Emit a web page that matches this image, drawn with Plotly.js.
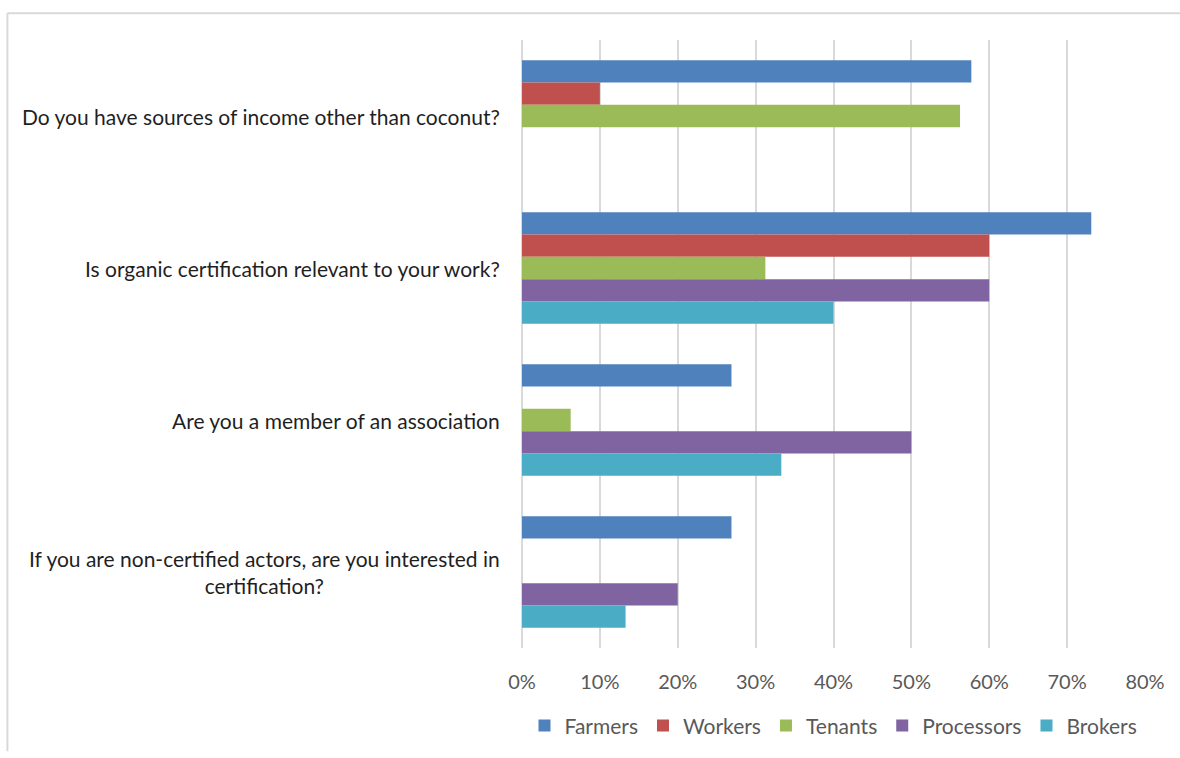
<!DOCTYPE html>
<html>
<head>
<meta charset="utf-8">
<script src="https://cdn.plot.ly/plotly-3.0.1.min.js"></script>
<style>
html,body{margin:0;padding:0;background:#fff;}
#chart{width:1180px;height:758px;}
</style>
</head>
<body>
<div id="chart"></div>
<script>
const categories = [
  "Do you have sources of income other than coconut?",
  "Is organic certification relevant to your work?",
  "Are you a member of an association",
  "If you are non-certified actors, are you interested in<br>certification?"
];
const seriesNames = ["Farmers", "Workers", "Tenants", "Processors", "Brokers"];
const farmers    = [57.7, 73.1, 26.9, 26.9];
const workers    = [10, 60, 0, 0];
const tenants    = [56.25, 31.25, 6.25, 0];
const processors = [0, 60, 50, 20];
const brokers    = [0, 40, 33.3, 13.3];
const xTicks = [0, 10, 20, 30, 40, 50, 60, 70, 80];

const colors = ["#4f81bd", "#c0504d", "#9bbb59", "#8064a2", "#4bacc6"];
const values = [farmers, workers, tenants, processors, brokers];

const traces = seriesNames.map((name, i) => ({
  type: "bar",
  orientation: "h",
  name: name,
  y: categories,
  x: values[i],
  marker: {color: colors[i]},
  hoverinfo: "x+name"
}));

const FONT = "Lato, 'Open Sans', sans-serif";

const annotations = categories.map(c => ({
  xref: "paper", yref: "y",
  x: 0, y: c,
  xanchor: "right", yanchor: "middle",
  xshift: -20,
  text: c,
  align: "center",
  showarrow: false,
  font: {family: FONT, size: 21, color: "#1f1f1f"}
}));

const layout = {
  width: 1180, height: 758,
  margin: {l: 522, r: 35, t: 40, b: 106},
  paper_bgcolor: "#fff",
  plot_bgcolor: "#fff",
  barmode: "group",
  bargap: 0.265,
  bargroupgap: 0,
  font: {family: FONT, size: 20, color: "#595959"},
  xaxis: {
    range: [0, 80],
    tickvals: xTicks,
    ticktext: xTicks.map(v => v + "%"),
    showgrid: true,
    gridcolor: "#d9d9d9",
    gridwidth: 2,
    zeroline: true,
    zerolinecolor: "#d9d9d9",
    zerolinewidth: 2,
    showline: false,
    ticks: "",
    ticklabelstandoff: 20,
    tickfont: {family: FONT, size: 20, color: "#595959"},
    fixedrange: true
  },
  yaxis: {
    type: "category",
    autorange: "reversed",
    showticklabels: false,
    showgrid: false,
    zeroline: false,
    showline: false,
    ticks: "",
    fixedrange: true
  },
  legend: {
    orientation: "h",
    x: 0.5, xanchor: "center",
    y: -0.128, yanchor: "middle",
    font: {family: FONT, size: 21, color: "#595959"},
    traceorder: "normal"
  },
  annotations: annotations,
  shapes: [
    {type: "line", xref: "paper", yref: "paper", x0: -0.826, x1: 1.1, y0: 1.044, y1: 1.044, line: {color: "#d9d9d9", width: 2}},
    {type: "line", xref: "paper", yref: "paper", x0: -0.826, x1: -0.826, y0: 1.044, y1: -0.17, line: {color: "#d9d9d9", width: 2}}
  ],
  showlegend: true
};

Plotly.newPlot("chart", traces, layout, {displayModeBar: false});
</script>
</body>
</html>
